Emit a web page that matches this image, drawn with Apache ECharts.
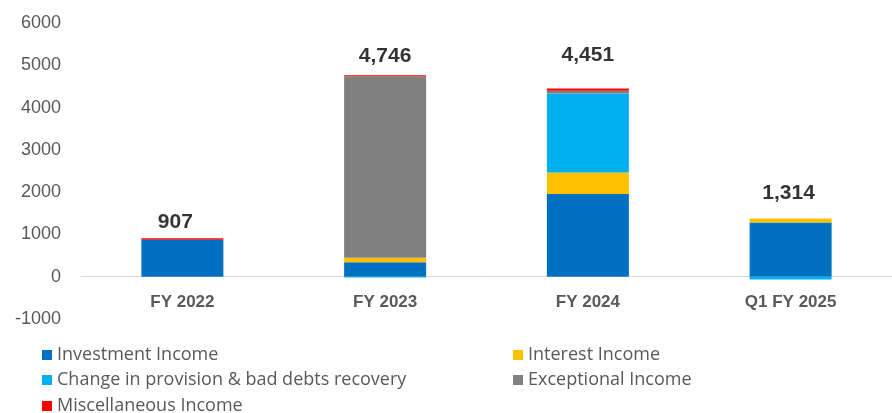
<!DOCTYPE html>
<html>
<head>
<meta charset="utf-8">
<script src="https://cdn.jsdelivr.net/npm/echarts@6/dist/echarts.min.js"></script>
<style>
  html, body { margin: 0; padding: 0; background: #ffffff; }
  #chart { width: 892px; height: 413px; }
</style>
</head>
<body>
<div id="chart"></div>
<script>
// Income breakdown by period (stacked components plus period totals)
const categories = ['FY 2022', 'FY 2023', 'FY 2024', 'Q1 FY 2025'];
const investmentIncome = [877, 345, 1955, 1283];
const interestIncome = [0, 104, 507, 93];
const provisionRecovery = [0, -20, 1871, -64];
const exceptionalIncome = [0, 4292, 62, 0];
const miscIncome = [30, 25, 56, 2];
const totals = [907, 4746, 4451, 1314];
const yTicks = { min: -1000, max: 6000, interval: 1000 };

// per-period placement of the total labels above each column
const totalLabelOffsets = [[-7, -16], [0, -20], [0, -33], [-2, -28]];

const names = {
  inv: 'Investment Income',
  int: 'Interest Income',
  prov: 'Change in provision & bad debts recovery',
  exc: 'Exceptional Income',
  misc: 'Miscellaneous Income'
};
const colors = {
  inv: '#0070C0',
  int: '#FFC000',
  prov: '#00B0F0',
  exc: '#808080',
  misc: '#FF0000'
};

const textGrey = '#595959';

// legend entries laid out in two columns, three rows
const legendSlots = [
  { key: 'inv', left: 42, top: 345 },
  { key: 'int', left: 513, top: 345 },
  { key: 'prov', left: 42, top: 370 },
  { key: 'exc', left: 513, top: 370 },
  { key: 'misc', left: 42, top: 396 }
];

function stackSeries(key, values) {
  return {
    name: names[key],
    type: 'bar',
    stack: 'income',
    barWidth: 82,
    itemStyle: { color: colors[key] },
    data: values
  };
}

const chart = echarts.init(document.getElementById('chart'), null, { renderer: 'canvas' });

chart.setOption({
  animation: false,
  backgroundColor: '#ffffff',
  grid: { left: 81, top: 23, width: 819, height: 296, containLabel: false },
  legend: legendSlots.map(s => ({
    left: s.left,
    top: s.top,
    padding: 0,
    itemWidth: 10,
    itemHeight: 10,
    icon: 'rect',
    textStyle: { color: textGrey, fontFamily: 'Open Sans', fontSize: 18, lineHeight: 20 },
    data: [names[s.key]]
  })),
  xAxis: {
    type: 'category',
    data: categories,
    axisLine: { onZero: true, lineStyle: { color: '#d9d9d9', width: 1 } },
    axisTick: { show: false },
    axisLabel: {
      color: textGrey, fontFamily: 'Liberation Sans', fontWeight: 'bold',
      fontSize: 17, margin: -25
    }
  },
  yAxis: {
    type: 'value',
    min: yTicks.min, max: yTicks.max, interval: yTicks.interval,
    axisLine: { show: false },
    axisTick: { show: false },
    splitLine: { show: false },
    axisLabel: {
      color: textGrey, fontFamily: 'Liberation Sans', fontSize: 18, margin: 20,
      formatter: v => String(v)
    }
  },
  series: [
    stackSeries('inv', investmentIncome),
    stackSeries('int', interestIncome),
    stackSeries('prov', provisionRecovery),
    stackSeries('exc', exceptionalIncome),
    stackSeries('misc', miscIncome),
    {
      name: 'Total',
      type: 'scatter',
      symbolSize: 0,
      silent: true,
      z: 5,
      data: totals.map((v, i) => ({
        value: v,
        label: { offset: totalLabelOffsets[i] }
      })),
      label: {
        show: true,
        position: 'inside',
        color: '#000000',
        fontFamily: 'Liberation Sans',
        fontWeight: 'bold',
        fontSize: 21,
        formatter: p => p.value.toLocaleString('en-US')
      }
    }
  ]
});
</script>
</body>
</html>
